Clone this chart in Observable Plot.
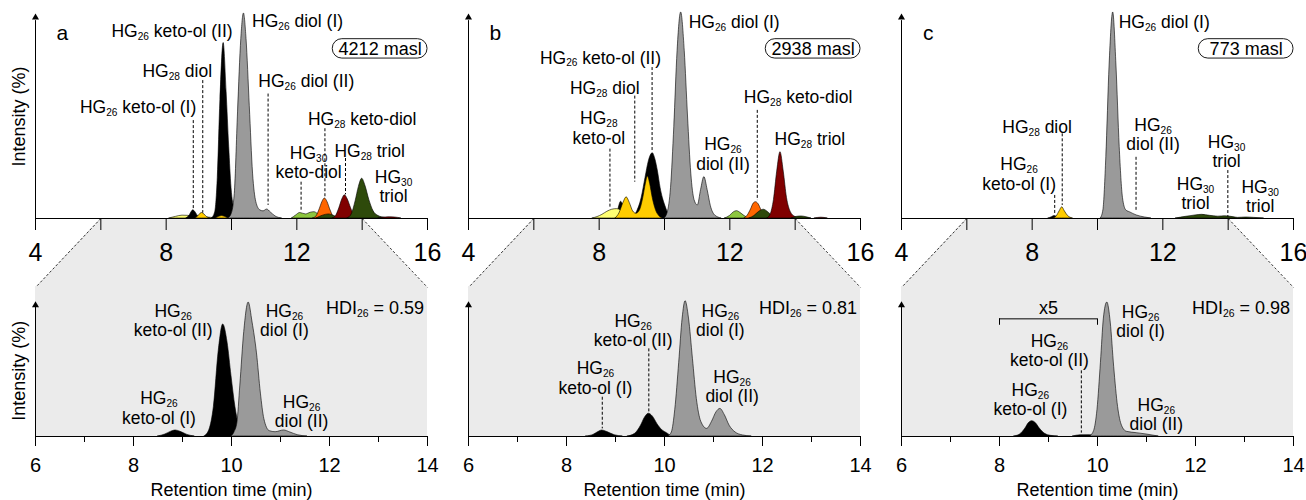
<!DOCTYPE html>
<html><head><meta charset="utf-8">
<script src="https://cdn.jsdelivr.net/npm/d3@7"></script>
<script src="https://cdn.jsdelivr.net/npm/@observablehq/plot@0.6"></script>
<style>
body{margin:0;background:#fff;}
#chart{position:relative;width:1306px;height:500px;overflow:hidden;font-family:"Liberation Sans",Arial,sans-serif;}
#chart svg{position:absolute;}
</style></head><body><div id="chart"></div>
<script>
// ---------- categories ----------
const compounds = ["HG28 keto-ol","HG26 keto-ol","HG28 diol","HG26 diol","HG30 keto-diol","HG28 keto-diol","HG28 triol","HG30 triol"];
const compoundColors = ["#ffff73","#000000","#ffcc00","#9a9a9a","#8dc63f","#ff6600","#800000","#2e4a0b"];
const panelLetters = ["a","b","c"];
const altitudes = ["4212 masl","2938 masl","773 masl"];
const hdiValues = ["0.59","0.81","0.98"];
const topTicks = [4,6,8,10,12,14,16];
const topTickLabels = [4,8,12,16];
const bottomMajorTicks = [6,8,10,12,14];
const bottomMinorTicks = [7,9,11,13];
const zoomRange = [6,14];
const xTitle = "Retention time (min)";
const yTitle = "Intensity (%)";

// ---------- chromatogram traces: [compound, [[time (min), intensity (%)], ...]] ----------
const chromTopA = [
  ["HG28 keto-ol", [[8.1,0],[8.3,0.8],[8.5,1.4],[8.68,1.3],[8.85,0.6],[9.0,0.3],[9.2,0.5],[9.4,0.3],[9.6,0]]],
  ["HG26 keto-ol", [[8.62,0],[8.72,1.5],[8.78,3.2],[8.83,4],[8.9,3],[8.98,1],[9.06,0]]],
  ["HG28 diol", [[8.9,0],[8.98,1],[9.05,2.3],[9.1,2.7],[9.17,2],[9.25,0.7],[9.35,0]]],
  ["HG26 keto-ol", [[9.4,0],[9.5,3],[9.58,20],[9.66,58],[9.76,86],[9.85,62],[9.93,35],[10.0,15],[10.1,4],[10.2,0]]],
  ["HG26 diol", [[9.9,0],[10.0,2],[10.1,12],[10.2,52],[10.3,88],[10.38,100.5],[10.46,88],[10.56,55],[10.66,22],[10.76,8],[10.88,4],[10.98,3.5],[11.09,4.4],[11.2,3],[11.35,1],[11.55,0]]],
  ["HG28 diol", [[9.52,0],[9.62,0.8],[9.71,1.2],[9.8,0.8],[9.9,0]]],
  ["HG30 keto-diol", [[11.85,0],[11.98,1.5],[12.1,2.7],[12.28,2],[12.42,2.8],[12.54,3.1],[12.65,2.2],[12.8,1],[12.95,0]]],
  ["HG28 keto-diol", [[12.5,0],[12.6,1],[12.7,4.5],[12.78,8],[12.86,9.8],[12.94,8],[13.02,4.5],[13.12,1],[13.22,0]]],
  ["HG30 triol", [[12.6,0],[12.8,1.4],[12.98,2],[13.15,1.2],[13.3,0]]],
  ["HG28 triol", [[13.1,0],[13.2,1.2],[13.3,5],[13.39,9.3],[13.47,11.4],[13.56,9.3],[13.66,5],[13.76,1.5],[13.88,0]]],
  ["HG30 triol", [[13.55,0],[13.68,2],[13.8,8.5],[13.9,15.5],[14.0,19.5],[14.1,16],[14.22,9],[14.35,3.5],[14.5,1.2],[14.7,0.3],[14.85,0]]],
  ["HG28 triol", [[14.5,0],[14.8,0.6],[15.0,0.5],[15.2,0]]]
];
const chromTopB = [
  ["HG26 keto-ol", [[8.5,0],[8.58,4],[8.67,8.2],[8.75,6],[8.85,1],[8.95,0]]],
  ["HG26 keto-ol", [[9.0,0],[9.15,3],[9.3,10],[9.42,20],[9.52,28],[9.64,32],[9.72,29],[9.8,23],[9.88,15],[9.95,10],[10.03,6],[10.1,3],[10.2,0]]],
  ["HG28 keto-ol", [[7.8,0],[7.95,0.7],[8.1,1.8],[8.25,3.3],[8.4,4.3],[8.55,4.6],[8.65,4],[8.75,1.5],[8.85,0]]],
  ["HG28 diol", [[8.5,0],[8.62,2.5],[8.74,7.5],[8.84,10.4],[8.94,7.5],[9.04,3.5],[9.14,2.3],[9.25,4],[9.35,10],[9.43,17],[9.49,20.6],[9.56,17],[9.64,10],[9.74,4],[9.85,1],[9.95,0]]],
  ["HG26 diol", [[10.0,0],[10.1,3],[10.2,15],[10.3,45],[10.4,82],[10.51,101],[10.62,82],[10.72,50],[10.82,22],[10.92,9],[11.02,6.4],[11.12,14],[11.22,20.3],[11.32,14],[11.42,6],[11.55,1.5],[11.75,0]]],
  ["HG30 keto-diol", [[11.85,0],[12.0,1.2],[12.12,3],[12.22,3.6],[12.32,2.8],[12.45,1.2],[12.6,0]]],
  ["HG28 keto-diol", [[12.45,0],[12.55,1.5],[12.65,4.5],[12.73,7.3],[12.8,8],[12.88,7],[12.97,4],[13.07,1.3],[13.2,0]]],
  ["HG30 triol", [[12.6,0],[12.75,1.2],[12.9,3.3],[13.04,4.3],[13.18,3],[13.32,1],[13.5,0]]],
  ["HG28 triol", [[13.15,0],[13.25,2],[13.35,9],[13.45,23],[13.55,32.5],[13.65,23],[13.75,10],[13.87,3],[14.0,0.8],[14.15,0]]],
  ["HG30 triol", [[13.9,0],[14.05,0.8],[14.2,1],[14.35,0.6],[14.5,0]]],
  ["HG28 triol", [[14.6,0],[14.8,0.4],[15.0,0]]]
];
const chromTopC = [
  ["HG26 keto-ol", [[8.5,0],[8.6,0.6],[8.68,1.2],[8.76,0.8],[8.85,0]]],
  ["HG28 diol", [[8.65,0],[8.75,1],[8.84,3.5],[8.92,5.5],[9.0,3.5],[9.1,1.2],[9.25,0]]],
  ["HG26 diol", [[10.1,0],[10.18,4],[10.27,30],[10.37,75],[10.48,101],[10.58,75],[10.68,35],[10.78,10],[10.88,4],[11.0,3],[11.2,1.5],[11.45,0.5],[11.65,0]]],
  ["HG30 triol", [[12.4,0],[12.7,0.8],[13.0,1.5],[13.2,1.8],[13.45,1.3],[13.7,0.9],[13.9,1.1],[14.1,0.8],[14.3,0.3],[14.55,0.5],[14.8,0.3],[15.1,0]]]
];
const chromBotA = [
  ["HG26 keto-ol", [[8.5,0],[8.65,1.5],[8.77,3.6],[8.86,4.5],[8.96,3.5],[9.1,1.2],[9.25,0]]],
  ["HG26 keto-ol", [[9.45,0],[9.55,5],[9.64,22],[9.74,64],[9.83,83.6],[9.92,70],[10.0,45],[10.08,22],[10.16,7],[10.26,0]]],
  ["HG26 diol", [[10.0,0],[10.06,3],[10.12,10],[10.18,38],[10.26,78],[10.35,100],[10.43,85],[10.52,62],[10.6,32],[10.67,13],[10.78,4],[10.9,3.2],[11.07,4.5],[11.2,3],[11.35,1],[11.55,0]]]
];
const chromBotB = [
  ["HG26 keto-ol", [[8.4,0],[8.55,1.2],[8.65,3.3],[8.73,4.5],[8.82,3.5],[8.98,1],[9.15,0]]],
  ["HG26 keto-ol", [[9.25,0],[9.4,2],[9.52,8],[9.6,14],[9.68,17],[9.76,15],[9.86,9],[9.96,4.5],[10.05,2.5],[10.15,0]]],
  ["HG26 diol", [[10.08,0],[10.15,3],[10.22,20],[10.3,55],[10.37,88],[10.43,101],[10.5,88],[10.58,58],[10.66,28],[10.75,11],[10.87,5.7],[10.97,11],[11.06,18],[11.14,20.6],[11.23,16],[11.33,8],[11.45,3],[11.6,0.8],[11.78,0]]]
];
const chromBotC = [
  ["HG26 keto-ol", [[8.3,0],[8.42,1.5],[8.53,6],[8.6,10],[8.67,11.4],[8.74,10],[8.82,6],[8.93,2],[9.05,0.5],[9.2,0]]],
  ["HG26 keto-ol", [[9.5,0],[9.65,0.9],[9.85,1],[9.95,0]]],
  ["HG26 diol", [[9.85,0],[9.93,4],[10.0,20],[10.07,55],[10.13,88],[10.2,100],[10.27,85],[10.34,52],[10.42,22],[10.5,8],[10.6,3.5],[10.8,2.5],[11.0,1.5],[11.25,0]]]
];

// ---------- peak labels: [text, time, intensity, anchor]; leaders: [time, from, to] ----------
const labelsTopA = [
  ["HG26 keto-ol (II)", 8.18, 92.2, "middle"], ["HG26 diol (I)", 10.63, 97.1, "start"],
  ["HG28 diol", 8.34, 72.5, "middle"], ["HG26 keto-ol (I)", 7.14, 54.6, "middle"],
  ["HG26 diol (II)", 12.29, 67.6, "middle"], ["HG28 keto-diol", 14.0, 48.9, "middle"],
  ["HG30\nketo-diol", 12.36, 27.5, "middle"], ["HG28 triol", 14.23, 33.3, "middle"],
  ["HG30\ntriol", 14.96, 15.6, "middle"]
];
const leadersTopA = [[9.12,67.6,2.6],[8.83,48,4.2],[11.12,61,6.4],[12.86,44,10.3],[12.13,17.8,3.1],[13.49,29.4,11.6]];
const labelsTopB = [
  ["HG26 diol (I)", 10.74, 96.2, "start"], ["HG26 keto-ol (II)", 8.04, 79, "middle"],
  ["HG28 diol", 8.17, 64, "middle"], ["HG28\nketo-ol", 7.99, 44.4, "middle"],
  ["HG26\ndiol (II)", 11.79, 31.7, "middle"], ["HG28 keto-diol", 14.09, 59.5, "middle"],
  ["HG28 triol", 14.45, 39, "middle"]
];
const leadersTopB = [[9.62,74,32.5],[9.09,60,17.8],[8.33,34,5.5],[12.84,53,8.8]];
const labelsTopC = [
  ["HG26 diol (I)", 10.65, 96.2, "start"], ["HG28 diol", 8.15, 44.8, "middle"],
  ["HG26\nketo-ol (I)", 7.6, 21.9, "middle"], ["HG26\ndiol (II)", 11.7, 41.1, "middle"],
  ["HG30\ntriol", 13.95, 32.9, "middle"], ["HG30\ntriol", 13.0, 12.5, "middle"],
  ["HG30\ntriol", 14.98, 10.7, "middle"]
];
const leadersTopC = [[8.92,41.5,6.4],[8.69,11.3,2.4],[11.18,30,3.1],[13.99,23.5,0.6]];
const labelsBotA = [
  ["HG26\nketo-ol (II)", 8.81, 86.6, "middle"], ["HG26\ndiol (I)", 11.08, 86.6, "middle"],
  ["HG26\nketo-ol (I)", 8.52, 21.4, "middle"], ["HG26\ndiol (II)", 11.43, 18.9, "middle"]
];
const leadersBotA = [];
const labelsBotB = [
  ["HG26\ndiol (I)", 11.14, 86.6, "middle"], ["HG26\nketo-ol (II)", 9.36, 79.1, "middle"],
  ["HG26\nketo-ol (I)", 8.59, 43.7, "middle"], ["HG26\ndiol (II)", 11.38, 37.5, "middle"]
];
const leadersBotB = [[9.68,65.4,17],[8.73,29.3,5.7]];
const labelsBotC = [
  ["HG26\ndiol (I)", 10.88, 86, "middle"], ["HG26\nketo-ol (II)", 9.02, 64.3, "middle"],
  ["HG26\nketo-ol (I)", 8.63, 27.6, "middle"], ["HG26\ndiol (II)", 11.2, 16.8, "middle"]
];
const leadersBotC = [[9.67,49,2.5]];
const magnifyLabel = "x5";
const magnifyRange = [8, 10];

// ---------- layout ----------
const FONT = "'Liberation Sans', Arial, sans-serif";
const COLW = 433, ML = 35, MR = 6;
const TOP_H = 287, TOP_MT = 14, TOP_MB = 69;
const BOT_H = 213, BOT_MT = 15, BOT_MB = 64;
const GREY = "#ebebeb";
const yBottomTop = -(TOP_MB + 1) * 100 / (TOP_H - TOP_MT - TOP_MB);
const yTopBot = (BOT_MT + 1) * 100 / (BOT_H - BOT_MT - BOT_MB) + 100;

function toRows(chrom) {
  return chrom.flatMap(([compound, pts], id) => pts.map(([t, v]) => ({id, compound, t, v})));
}
function traceMark(chrom) {
  // y1 = baseline, y2 = intensity: overlapping peaks, no stacking
  return Plot.areaY(toRows(chrom), {x: "t", y1: () => 0, y2: "v", z: "id", fill: "compound", stroke: "black", strokeWidth: 0.6, curve: "monotone-x"});
}
function labelMarks(labels, size) {
  return ["middle","start","end"].map(anchor => Plot.text(labels.filter(d => d[3] === anchor), {
    x: d => d[1], y: d => d[2], text: d => d[0], textAnchor: anchor, lineAnchor: "middle",
    fontSize: size, lineHeight: 1.1, fill: "black"
  }));
}
function leaderMarks(leaders) {
  return Plot.ruleX(leaders, {x: d => d[0], y1: d => d[1], y2: d => d[2], stroke: "black", strokeWidth: 1, strokeDasharray: "3,2"});
}

function topPanel(i, chrom, labels, leaders) {
  const [x0, x1] = [topTicks[0], topTicks[topTicks.length - 1]];
  return Plot.plot({
    width: COLW, height: TOP_H, marginLeft: ML, marginRight: MR, marginTop: TOP_MT, marginBottom: TOP_MB,
    style: {background: "transparent", overflow: "visible", fontFamily: FONT, color: "black"},
    x: {domain: [x0, x1]}, y: {domain: [0, 100], axis: null},
    color: {domain: compounds, range: compoundColors},
    marks: [
      Plot.areaX([{y: yBottomTop, a: x0, b: x1}, {y: 0, a: zoomRange[0], b: zoomRange[1]}], {y: "y", x1: "a", x2: "b", fill: GREY}),
      Plot.link([{a: zoomRange[0], b: x0}, {a: zoomRange[1], b: x1}], {x1: "a", y1: () => 0, x2: "b", y2: () => yBottomTop + 0.5, stroke: "black", strokeWidth: 0.8, strokeDasharray: "2.5,2"}),
      traceMark(chrom),
      Plot.ruleY([0], {stroke: "black", strokeWidth: 1.2}),
      Plot.axisX({ticks: topTicks, tickSize: 12, tickPadding: 13, fontSize: 25, label: null,
        tickFormat: d => topTickLabels.includes(d) ? String(d) : ""}),
      Plot.ruleX([x0], {y1: () => 0, y2: () => 97, stroke: "black", strokeWidth: 1}),
      Plot.dot([x0], {x: d => d, y: () => 98.5, symbol: "triangle", r: 2.6, fill: "black", stroke: null}),
      leaderMarks(leaders),
      ...labelMarks(labels, 17.5),
      Plot.text([panelLetters[i]], {x: () => 4.82, y: () => 91, text: d => d, fontSize: 21, lineAnchor: "middle"}),
      Plot.rect([altitudes[i]], {x1: () => 13.1, x2: () => 16.0, y1: () => 78.4, y2: () => 87.9, rx: 9.5, ry: 9.5, fill: "white", stroke: "black", strokeWidth: 0.9}),
      Plot.text([altitudes[i]], {x: () => 14.55, y: () => 83.2, text: d => d, fontSize: 18, lineAnchor: "middle"}),
      ...(i === 0 ? [Plot.text([yTitle], {x: () => x0, y: () => 50, text: d => d, rotate: -90, dx: -16, fontSize: 18, lineAnchor: "middle"})] : [])
    ]
  });
}

function bottomPanel(i, chrom, labels, leaders) {
  const [x0, x1] = zoomRange;
  const extra = i === 2 ? [
    Plot.ruleY([87.8], {x1: () => magnifyRange[0], x2: () => magnifyRange[1], stroke: "black", strokeWidth: 1}),
    Plot.ruleX(magnifyRange, {y1: () => 83, y2: () => 87.8, stroke: "black", strokeWidth: 1}),
    Plot.text([magnifyLabel], {x: () => (magnifyRange[0] + magnifyRange[1]) / 2, y: () => 95.5, text: d => d, fontSize: 18, lineAnchor: "middle"})
  ] : [];
  return Plot.plot({
    width: COLW, height: BOT_H, marginLeft: ML, marginRight: MR, marginTop: BOT_MT, marginBottom: BOT_MB,
    style: {background: "transparent", overflow: "visible", fontFamily: FONT, color: "black"},
    x: {domain: [x0, x1]}, y: {domain: [0, 100], axis: null},
    color: {domain: compounds, range: compoundColors},
    marks: [
      Plot.rect([0], {x1: () => x0, x2: () => x1, y1: () => 0, y2: () => yTopBot, fill: GREY}),
      traceMark(chrom),
      Plot.ruleY([0], {stroke: "black", strokeWidth: 1.2}),
      Plot.axisX({ticks: bottomMajorTicks, tickSize: 10, tickPadding: 11, fontSize: 20, label: null, tickFormat: d => String(d)}),
      Plot.axisX({ticks: bottomMinorTicks, tickSize: 6, label: null, tickFormat: () => ""}),
      Plot.ruleX([x0], {y1: () => 0, y2: () => 97, stroke: "black", strokeWidth: 1}),
      Plot.dot([x0], {x: d => d, y: () => 98, symbol: "triangle", r: 2.6, fill: "black", stroke: null}),
      leaderMarks(leaders),
      ...labelMarks(labels, 17.5),
      Plot.text([`HDI26 = ${hdiValues[i]}`], {x: () => 13.93, y: () => 96, text: d => d, textAnchor: "end", fontSize: 18, lineAnchor: "middle"}),
      Plot.text([xTitle], {x: () => (x0 + x1) / 2, y: () => -40, text: d => d, fontSize: 18, lineAnchor: "middle"}),
      ...(i === 0 ? [Plot.text([yTitle], {x: () => x0, y: () => 49, text: d => d, rotate: -90, dx: -16, fontSize: 18, lineAnchor: "middle"})] : []),
      ...extra
    ]
  });
}

function addSubscripts(svg) {
  const targets = [];
  svg.querySelectorAll("text").forEach(t => {
    const spans = t.querySelectorAll("tspan");
    if (spans.length) spans.forEach(s => targets.push(s)); else targets.push(t);
  });
  for (const el of targets) {
    const s = el.textContent;
    const re = /(HG|HDI)(\d{2})/g;
    if (!re.test(s)) continue;
    re.lastIndex = 0;
    el.textContent = "";
    let last = 0, m;
    while ((m = re.exec(s))) {
      el.appendChild(document.createTextNode(s.slice(last, m.index) + m[1]));
      const sub = document.createElementNS("http://www.w3.org/2000/svg", "tspan");
      sub.setAttribute("font-size", "0.58em");
      sub.setAttribute("baseline-shift", "-3");
      sub.textContent = m[2];
      el.appendChild(sub);
      last = m.index + m[0].length;
    }
    el.appendChild(document.createTextNode(s.slice(last)));
  }
}

const root = document.getElementById("chart");
const tops = [[chromTopA, labelsTopA, leadersTopA],[chromTopB, labelsTopB, leadersTopB],[chromTopC, labelsTopC, leadersTopC]];
const bots = [[chromBotA, labelsBotA, leadersBotA],[chromBotB, labelsBotB, leadersBotB],[chromBotC, labelsBotC, leadersBotC]];
for (let i = 0; i < 3; i++) {
  const t = topPanel(i, ...tops[i]);
  t.style.left = (i * COLW) + "px"; t.style.top = "0px";
  addSubscripts(t);
  root.appendChild(t);
}
for (let i = 0; i < 3; i++) {
  const b = bottomPanel(i, ...bots[i]);
  b.style.left = (i * COLW) + "px"; b.style.top = TOP_H + "px";
  addSubscripts(b);
  root.appendChild(b);
}
</script></body></html>
